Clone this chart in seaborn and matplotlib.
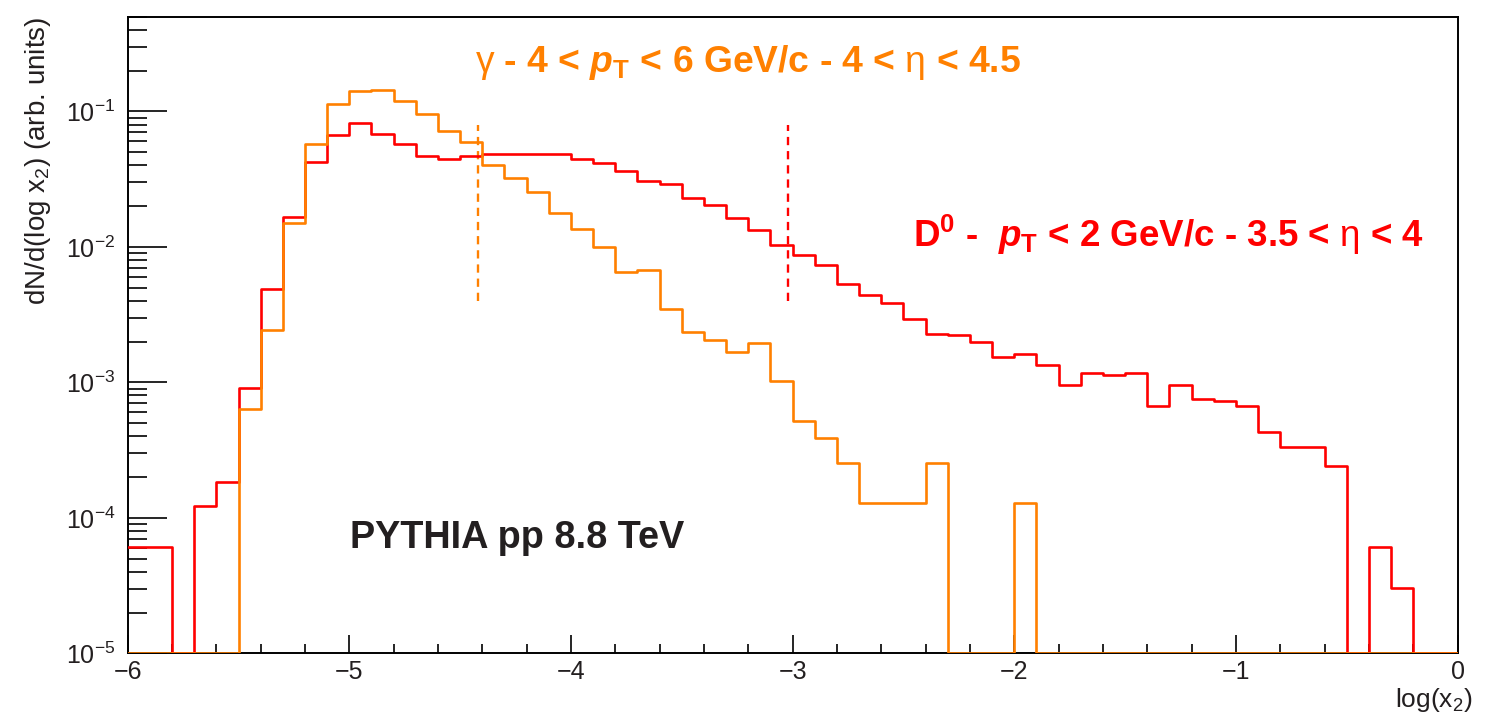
import numpy as np
import pandas as pd
import matplotlib
matplotlib.use("Agg")
import matplotlib.pyplot as plt
import seaborn as sns
from matplotlib.ticker import LogLocator, MultipleLocator

# -----------------------------------
# DATA (0.1 wide bins in log(x2))
# -----------------------------------

bin_edges = [round(-6 + 0.1 * i, 1) for i in range(61)]

d0_values = [
    6.1e-5, 6.1e-5, 0, 1.23e-4, 1.83e-4, 9.1e-4, 4.92e-3, 1.66e-2, 4.26e-2, 6.73e-2,
    8.15e-2, 6.84e-2, 5.71e-2, 4.71e-2, 4.43e-2, 4.68e-2, 4.82e-2, 4.88e-2, 4.88e-2, 4.82e-2,
    4.43e-2, 4.16e-2, 3.61e-2, 3.05e-2, 2.90e-2, 2.28e-2, 2.03e-2, 1.62e-2, 1.34e-2, 1.04e-2,
    8.67e-3, 7.31e-3, 5.36e-3, 4.40e-3, 3.82e-3, 2.96e-3, 2.29e-3, 2.25e-3, 1.99e-3, 1.54e-3,
    1.61e-3, 1.35e-3, 9.53e-4, 1.18e-3, 1.13e-3, 1.18e-3, 6.68e-4, 9.53e-4, 7.6e-4, 7.31e-4,
    6.71e-4, 4.32e-4, 3.34e-4, 3.34e-4, 2.42e-4, 0, 6.1e-5, 3.05e-5, 0, 0,
]

gamma_values = [
    0, 0, 0, 0, 0, 6.41e-4, 2.43e-3, 1.49e-2, 5.78e-2, 0.113,
    0.141, 0.1445, 0.119, 9.62e-2, 7.16e-2, 5.97e-2, 4.0e-2, 3.22e-2, 2.54e-2, 1.78e-2,
    1.36e-2, 1.0e-2, 6.5e-3, 6.72e-3, 3.45e-3, 2.34e-3, 2.05e-3, 1.68e-3, 1.95e-3, 1.02e-3,
    5.18e-4, 3.86e-4, 2.56e-4, 1.28e-4, 1.28e-4, 1.28e-4, 2.56e-4, 0, 0, 0,
    1.28e-4, 0, 0, 0, 0, 0, 0, 0, 0, 0,
    0, 0, 0, 0, 0, 0, 0, 0, 0, 0,
]

# dashed markers (log x2 position, y from / to)
gamma_cut = -4.42
d0_cut = -3.02
cut_ymin, cut_ymax = 0.004, 0.08

Y_MIN, Y_MAX = 1e-5, 0.5

RED = "#ff0000"
ORANGE = "#ff8000"
DARK = "#231f20"


def main():

    sns.set_style("white")
    plt.rcParams["font.family"] = ["Liberation Sans", "DejaVu Sans"]
    plt.rcParams["mathtext.fontset"] = "custom"
    plt.rcParams["mathtext.rm"] = "Liberation Sans"
    plt.rcParams["mathtext.it"] = "Liberation Sans:italic:bold"
    plt.rcParams["mathtext.bf"] = "Liberation Sans:bold"
    plt.rcParams["axes.unicode_minus"] = True

    centers = [e + 0.05 for e in bin_edges[:-1]]
    hist_df = pd.DataFrame({
        "logx2": centers + centers,
        "weight": d0_values + gamma_values,
        "species": ["D0"] * len(centers) + ["gamma"] * len(centers),
    })
    # empty bins are drawn on the frame floor, like ROOT does on a log axis
    hist_df["shown"] = hist_df["weight"].clip(lower=Y_MIN)

    fig = plt.figure(figsize=(14.95, 7.13), dpi=100)
    ax = fig.add_axes([0.0854, 0.0837, 0.975 - 0.0854, 0.9766 - 0.0837])
    ax.set_yscale("log")

    for name, colour in [("D0", RED), ("gamma", ORANGE)]:
        sns.histplot(
            data=hist_df[hist_df["species"] == name],
            x="logx2",
            weights="shown",
            bins=bin_edges,
            element="step",
            fill=False,
            color=colour,
            linewidth=1.9,
            zorder=3,
            ax=ax,
        )

    # dashed cut lines
    ax.vlines(gamma_cut, cut_ymin, cut_ymax, colors=ORANGE,
              linestyles=(0, (3.5, 2.5)), linewidth=1.7)
    ax.vlines(d0_cut, cut_ymin, cut_ymax, colors=RED,
              linestyles=(0, (3.5, 2.5)), linewidth=1.7)

    ax.set_xlim(-6, 0)
    ax.set_ylim(Y_MIN, Y_MAX)
    ax.set_xlabel("")
    ax.set_ylabel("")

    # ROOT-like axes
    for side in ["left", "right", "top", "bottom"]:
        ax.spines[side].set_visible(True)
        ax.spines[side].set_color("black")
        ax.spines[side].set_linewidth(1.4)

    ax.xaxis.set_major_locator(MultipleLocator(1))
    ax.xaxis.set_minor_locator(MultipleLocator(0.2))
    ax.yaxis.set_major_locator(LogLocator(base=10, numticks=10))
    ax.yaxis.set_minor_locator(LogLocator(base=10, subs=np.arange(2, 10), numticks=20))

    ax.tick_params(axis="x", which="major", direction="in", length=13, width=1.2,
                   labelsize=18, color="black", labelcolor=DARK, pad=5,
                   bottom=True, top=False)
    ax.tick_params(axis="x", which="minor", direction="in", length=6.5, width=1.2,
                   color="black", bottom=True, top=False)
    ax.tick_params(axis="y", which="major", direction="in", length=28, width=1.2,
                   labelsize=18, color="black", labelcolor=DARK, pad=9,
                   left=True, right=False)
    ax.tick_params(axis="y", which="minor", direction="in", length=14, width=1.2,
                   color="black", left=True, right=False)

    # axis titles
    fig.text(38 / 1495, 1 - 161 / 713, r"dN/d(log x$_{2}$) (arb. units)",
             rotation=90, ha="center", va="center", fontsize=20, color=DARK)
    fig.text(1473 / 1495, 1 - 700 / 713, r"log(x$_{2}$)",
             ha="right", va="center", fontsize=19, color=DARK)

    # annotations
    fig.text(475 / 1495, 1 - 72 / 713,
             r"$\mathrm{\gamma}$ - 4 < $\mathit{p}_{\mathbf{T}}$ < 6 GeV/c - 4 < $\mathrm{\eta}$ < 4.5",
             ha="left", va="baseline", fontsize=26.8, fontweight="bold", color=ORANGE)
    fig.text(913 / 1495, 1 - 247 / 713,
             r"D$^{\mathbf{0}}$ -  $\mathit{p}_{\mathbf{T}}$ < 2 GeV/c - 3.5 < $\mathrm{\eta}$ < 4",
             ha="left", va="baseline", fontsize=26.5, fontweight="bold", color=RED)
    fig.text(350 / 1495, 1 - 548 / 713, "PYTHIA pp 8.8 TeV",
             ha="left", va="baseline", fontsize=27.3, fontweight="bold", color=DARK)

    plt.savefig("out.png", dpi=100)


if __name__ == "__main__":
    main()
